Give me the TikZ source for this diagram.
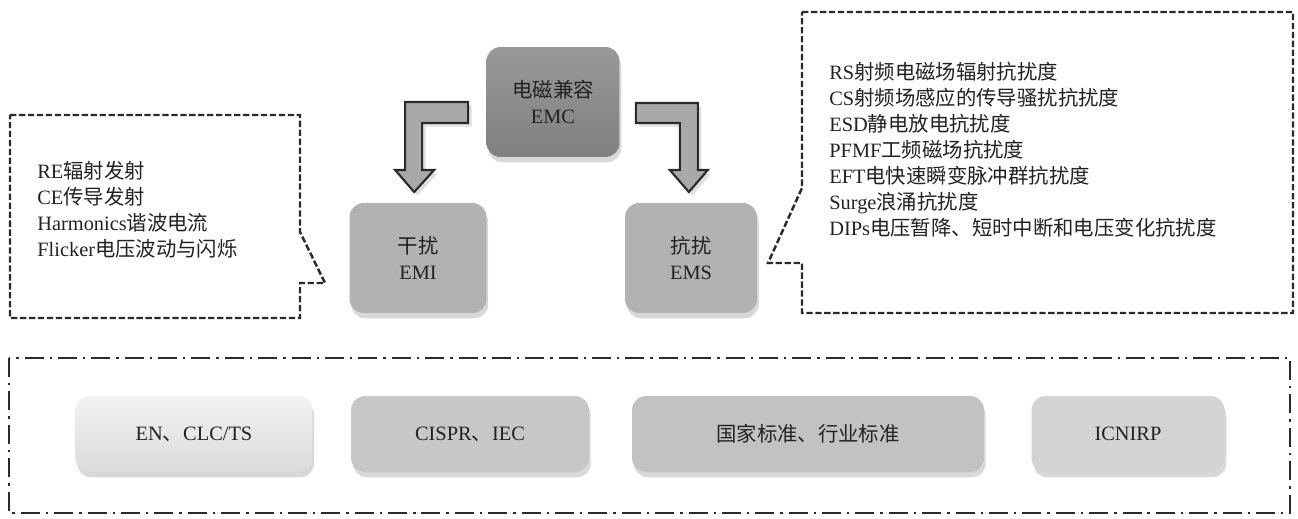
\documentclass[tikz,border=0pt]{standalone}
\usepackage{fontspec}
\setmainfont{Liberation Serif}
\newfontfamily\cjk{Noto Sans CJK SC}
\usetikzlibrary{shadows}

\newcommand{\zh}[1]{{\cjk #1}}

\definecolor{txtgray}{HTML}{222222}
\definecolor{linegray}{HTML}{2A2A2A}
\definecolor{arrowgray}{HTML}{A9A9A9}

\tikzset{
	box/.style={rounded corners=8pt, align=center, text=txtgray, inner sep=0pt,
		drop shadow={shadow xshift=1pt, shadow yshift=-3pt, opacity=0.3}},
	callout/.style={draw=linegray, line width=1.4pt, dash pattern=on 3.6pt off 1.5pt},
	stdframe/.style={draw=linegray, line width=1.3pt, dash pattern=on 10.8pt off 3.4pt on 1.4pt off 3.4pt},
	blockarrow/.style={draw=linegray, fill=arrowgray, line width=1.2pt, line join=miter,
		drop shadow={shadow xshift=2pt, shadow yshift=-2pt, opacity=0.25}},
	item/.style={anchor=base west, inner sep=0pt, text=txtgray}
}

\begin{document}
\begin{tikzpicture}[x=0.02cm, y=-0.02cm, font=\fontsize{11.6}{14.7}\selectfont]
		\useasboundingbox[fill=white] (0,0) rectangle (1298,518);

		\node[box, top color=black!40, bottom color=black!50, minimum width=2.66cm, minimum height=2.2cm] (emc) at (553,102) {\zh{电磁兼容}\\EMC};
		\node[box, fill=black!30, minimum width=2.74cm, minimum height=2.2cm] (emi) at (418,258) {\zh{干扰}\\EMI};
		\node[box, fill=black!30, minimum width=2.64cm, minimum height=2.2cm] (ems) at (691,258) {\zh{抗扰}\\EMS};

		\draw[blockarrow] (emc.west) ++(-18,0) -- ++(-63,0) -- ++(0,68) -- ++(-10,0) -- ++(19,22)
			-- ++(20,-22) -- ++(-12,0) -- ++(0,-47) -- ++(46,0) -- cycle;
		\draw[blockarrow] (emc.east) ++(16,1) -- ++(62,0) -- ++(0,67) -- ++(10,0) -- ++(-19,22)
			-- ++(-19,-22) -- ++(10,0) -- ++(0,-47) -- ++(-44,0) -- cycle;

		\draw[callout] (10,115) -- (300,115) -- (300,232) -- (325,283) -- (300,283) -- (300,318) -- (10,318) -- cycle;
		\draw[callout] (802,12) -- (1293,12) -- (1293,313) -- (802,313) -- (802,263) -- (768,263) -- (802,188) -- cycle;

		\foreach \t [count=\i from 0] in {RE\zh{辐射发射}, CE\zh{传导发射}, Harmonics\zh{谐波电流}, Flicker\zh{电压波动与闪烁}}
			\node[item] (emiitem\i) at (37,178+26*\i) {\t};

		\foreach \t [count=\i from 0] in {RS\zh{射频电磁场辐射抗扰度}, CS\zh{射频场感应的传导骚扰抗扰度}, ESD\zh{静电放电抗扰度},
			PFMF\zh{工频磁场抗扰度}, EFT\zh{电快速瞬变脉冲群抗扰度}, Surge\zh{浪涌抗扰度}, DIPs\zh{电压暂降、短时中断和电压变化抗扰度}}
			\node[item] (emsitem\i) at (829,79+26*\i) {\t};

		\draw[stdframe] (9,358) rectangle (1290,513);

		\node[box, top color=black!5, bottom color=black!14, minimum width=4.74cm, minimum height=1.52cm] (en) at (194,434) {EN\zh{、}CLC/TS};
		\node[box, fill=black!22, minimum width=4.76cm, minimum height=1.52cm] (cispr) at (470,434) {CISPR\zh{、}IEC};
		\node[box, fill=black!24, minimum width=7.04cm, minimum height=1.52cm] (gb) at (808,434) {\zh{国家标准、行业标准}};
		\node[box, fill=black!17, minimum width=3.86cm, minimum height=1.52cm] (icnirp) at (1128,434) {ICNIRP};

\end{tikzpicture}
\end{document}
